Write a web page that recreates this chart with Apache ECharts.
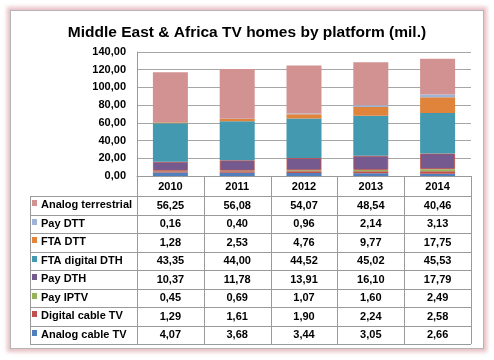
<!DOCTYPE html>
<html><head><meta charset="utf-8">
<script src="https://cdn.jsdelivr.net/npm/echarts@6/dist/echarts.min.js"></script>
<style>
html,body{margin:0;padding:0;background:#fff;}
#card{position:absolute;left:10px;top:10px;width:472px;height:337px;border:1px solid #b5b5b5;box-shadow:0 0 4px 3px rgba(214,140,150,0.55);background:#fff;}
#main{position:absolute;left:0;top:0;width:494px;height:360px;}
</style></head><body>
<div id="card"></div><div id="main"></div>
<script>
const categories = ['2010','2011','2012','2013','2014'];
const yTicks = [0,20,40,60,80,100,120,140];
const analogCableTV = [4.07,3.68,3.44,3.05,2.66];
const digitalCableTV = [1.29,1.61,1.90,2.24,2.58];
const payIPTV = [0.45,0.69,1.07,1.60,2.49];
const payDTH = [10.37,11.78,13.91,16.10,17.79];
const ftaDigitalDTH = [43.35,44.00,44.52,45.02,45.53];
const ftaDTT = [1.28,2.53,4.76,9.77,17.75];
const payDTT = [0.16,0.40,0.96,2.14,3.13];
const analogTerrestrial = [56.25,56.08,54.07,48.54,40.46];

// bottom-to-top stacking order
const seriesDefs = [
  {name:'Analog cable TV', data:analogCableTV, color:'#4F7FBC'},
  {name:'Digital cable TV', data:digitalCableTV, color:'#C0504D'},
  {name:'Pay IPTV', data:payIPTV, color:'#94B457'},
  {name:'Pay DTH', data:payDTH, color:'#745A8F', border:'rgba(192,80,77,0.85)'},
  {name:'FTA digital DTH', data:ftaDigitalDTH, color:'#4399B0'},
  {name:'FTA DTT', data:ftaDTT, color:'#E0843B'},
  {name:'Pay DTT', data:payDTT, color:'#9DB4D8'},
  {name:'Analog terrestrial', data:analogTerrestrial, color:'#D29292'}
];

const fmt = v => v.toFixed(2).replace('.', ',');
const FONT = '"Liberation Sans", Arial, sans-serif';

const chart = echarts.init(document.getElementById('main'), null, {renderer:'canvas'});
const gridLeft = 137, gridRight = 23, gridTop = 52, gridBottom = 184;

chart.setOption({
  animation:false,
  backgroundColor:'transparent',
  textStyle:{fontFamily:FONT},
  title:{text:'Middle East & Africa TV homes by platform (mil.)', left:'center', top:20,
    textStyle:{fontFamily:FONT, fontWeight:'bold', fontSize:15.5, color:'#000'}},
  grid:{left:gridLeft, right:gridRight, top:gridTop, bottom:gridBottom},
  xAxis:{type:'category', data:categories,
    axisLine:{show:true, lineStyle:{color:'#999'}},
    axisTick:{show:false},
    axisLabel:{fontFamily:FONT, fontWeight:'bold', fontSize:11, color:'#000', margin:5}},
  yAxis:{type:'value', min:yTicks[0], max:yTicks[yTicks.length-1], interval:20,
    axisLine:{show:true, lineStyle:{color:'#999'}},
    axisTick:{show:false},
    splitLine:{lineStyle:{color:'#a6a6a6'}},
    axisLabel:{fontFamily:FONT, fontWeight:'bold', fontSize:11, color:'#000', margin:11, formatter:fmt}},
  series: seriesDefs.map(s => ({
    name:s.name, type:'bar', stack:'total', data:s.data, barWidth:35,
    itemStyle:{color:s.color, borderColor:s.border || s.color, borderWidth:s.border?1:0}
  }))
});

// Data table under the chart
const axisY = chart.getHeight() - gridBottom;
const right = chart.getWidth() - gridRight;
const tableLeft = 30, rowTop = 196, rowH = 18.5;
const colCenters = categories.map(c => chart.convertToPixel({xAxisIndex:0}, c));
const colW = (right - gridLeft) / categories.length;
const rows = seriesDefs.slice().reverse();
const g = [];
const lineStyle = {stroke:'#9a9a9a', lineWidth:1};
const tableBottom = rowTop + rows.length * rowH;
for (let i = 0; i <= rows.length; i++) {
  const y = Math.round(rowTop + i * rowH) + 0.5;
  g.push({type:'line', shape:{x1:tableLeft, y1:y, x2:right, y2:y}, style:lineStyle, silent:true});
}
g.push({type:'line', shape:{x1:tableLeft+0.5, y1:rowTop, x2:tableLeft+0.5, y2:tableBottom}, style:lineStyle, silent:true});
for (let k = 0; k <= categories.length; k++) {
  const x = Math.round(gridLeft + k * colW) + 0.5;
  g.push({type:'line', shape:{x1:x, y1:axisY, x2:x, y2:tableBottom}, style:lineStyle, silent:true});
}
rows.forEach((s, i) => {
  const cy = rowTop + i * rowH + rowH / 2;
  g.push({type:'rect', shape:{x:32, y:Math.round(cy)-5, width:5, height:6}, style:{fill:s.color}, silent:true});
  g.push({type:'text', x:41, y:cy, style:{text:s.name, font:'bold 11px ' + FONT, fill:'#000', textVerticalAlign:'middle', textAlign:'left'}, silent:true});
  s.data.forEach((v, j) => {
    g.push({type:'text', x:colCenters[j], y:cy + 0.5, style:{text:fmt(v), font:'bold 11px ' + FONT, fill:'#000', textVerticalAlign:'middle', textAlign:'center'}, silent:true});
  });
});
chart.setOption({graphic:{elements:g}});
</script>
</body></html>
